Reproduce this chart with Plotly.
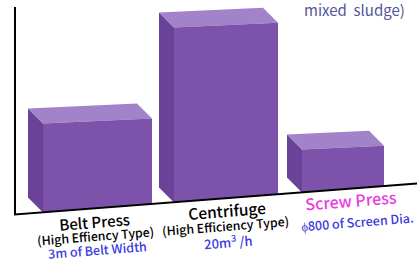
import plotly.graph_objects as go

# ---- data ----
CATEGORIES = ["Belt Press", "Centrifuge", "Screw Press"]
SUBTITLES = ["(High Effiency Type)", "(High Efficiency Type)", ""]
SPECS = ["3m of Belt Width", "20m<sup>3</sup> /h", "ϕ800 of Screen Dia."]
VALUES = [89, 175, 43]          # relative dewatering capacity (front-face height)
NOTE = "mixed  sludge)"

# ---- layout / geometry (not data) ----
W, H = 417, 263
BAR_LEFT = [43, 174, 302]
BAR_WIDTH = [109, 104, 82]
DEPTH_X, DEPTH_Y = -15, 15
TOP_SLOPE = 0.045
FRONT = "#7c52ab"
TOP = "#a283c9"
SIDE = "#6a4399"

def bottom_y(x):           # bar bottoms (data units, up positive)
    return H - (212.5 - 0.077 * (x - 43))

def base_y(x):             # ground line
    return H - (214.5 - 0.077 * (x - 15))

fig = go.Figure()

def poly(xs, ys, color):
    fig.add_trace(go.Scatter(x=xs + [xs[0]], y=ys + [ys[0]], fill="toself",
                             fillcolor=color, mode="lines",
                             line=dict(width=0, color=color),
                             hoverinfo="skip", showlegend=False))

for left, width, v in zip(BAR_LEFT, BAR_WIDTH, VALUES):
    right = left + width
    bl = (left, bottom_y(left))
    br = (right, bottom_y(right))
    tl = (left, bl[1] + v)
    tr = (right, tl[1] + width * TOP_SLOPE)
    d = lambda p: (p[0] + DEPTH_X, p[1] + DEPTH_Y)
    # side face
    pts = [tl, d(tl), d(bl), bl]
    poly([p[0] for p in pts], [p[1] for p in pts], SIDE)
    # top face
    pts = [tl, tr, d(tr), d(tl)]
    poly([p[0] for p in pts], [p[1] for p in pts], TOP)
    # front face
    pts = [bl, br, tr, tl]
    poly([p[0] for p in pts], [p[1] for p in pts], FRONT)

# axes lines
fig.add_trace(go.Scatter(x=[15, 15, 417], y=[H - 7, base_y(15), base_y(417)],
                         mode="lines", line=dict(color="black", width=2),
                         hoverinfo="skip", showlegend=False))

FONT = "Noto Sans CJK JP"
ANG = -4.5
label_pos = [(94, 221), (227, 210), (351, 200)]
sub_pos = [(95, 236), (225, 226), None]
spec_pos = [(97, 249), (228, 241), (357, 221)]
label_sizes = [15, 15.5, 16]
label_colors = ["black", "black", "#e83ce0"]
spec_sizes = [12.5, 13, 12.5]
for i, cat in enumerate(CATEGORIES):
    x, py = label_pos[i]
    fig.add_annotation(x=x, y=H - py, text=cat, showarrow=False, textangle=ANG,
                       font=dict(family=FONT, size=label_sizes[i],
                                 color=label_colors[i], weight=500))
    if SUBTITLES[i] and sub_pos[i]:
        x, py = sub_pos[i]
        fig.add_annotation(x=x, y=H - py, text=SUBTITLES[i], showarrow=False, textangle=ANG,
                           font=dict(family=FONT, size=12.3, color="black", weight=500))
    x, py = spec_pos[i]
    fig.add_annotation(x=x, y=H - py, text=SPECS[i], showarrow=False, textangle=ANG,
                       borderpad=0,
                       font=dict(family=FONT, size=spec_sizes[i], color="#3a3ae0", weight=500))

fig.add_annotation(x=354, y=H, yanchor="top", yshift=3, text=NOTE, showarrow=False,
                   font=dict(family=FONT, size=15, color="#55559a"))

fig.update_layout(width=W, height=H, margin=dict(l=0, r=0, t=0, b=0),
                  paper_bgcolor="white", plot_bgcolor="white",
                  xaxis=dict(range=[0, W], visible=False, fixedrange=True),
                  yaxis=dict(range=[0, H], visible=False, fixedrange=True))

fig.write_html("out.html", config={"displayModeBar": False},
               post_script="document.body.style.margin='0';")
